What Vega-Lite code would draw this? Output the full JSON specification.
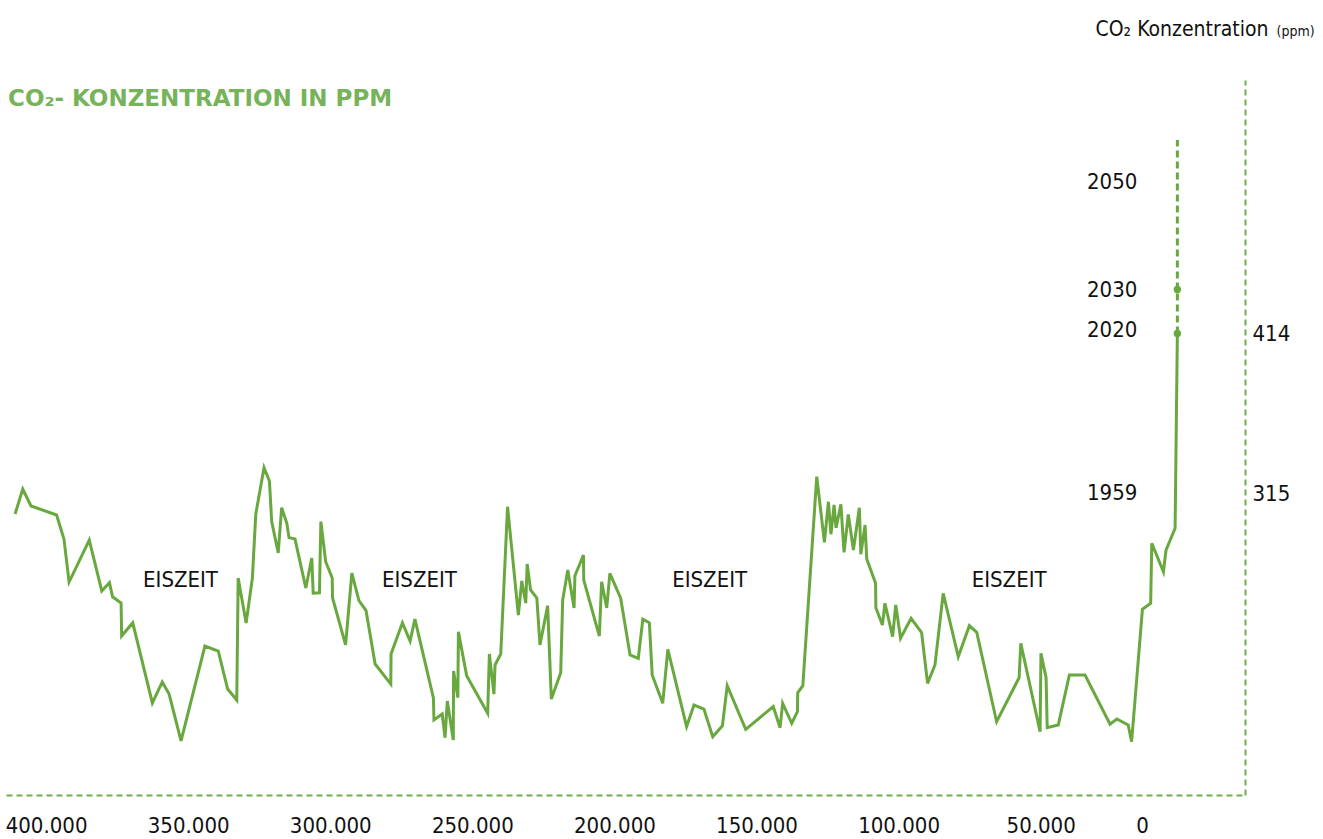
{
  "$schema": "https://vega.github.io/schema/vega-lite/v6.json",
  "width": 1239,
  "height": 715,
  "autosize": "none",
  "padding": {"left": 6, "top": 80, "right": 78, "bottom": 44},
  "background": "white",
  "title": {
    "text": "CO₂- KONZENTRATION IN PPM",
    "anchor": "start",
    "frame": "group",
    "offset": -31,
    "dx": 2,
    "dy": 62,
    "font": "DejaVu Sans",
    "fontSize": 23,
    "fontWeight": "bold",
    "color": "#76b35a"
  },
  "config": {"view": {"stroke": null}},
  "datasets": {
    "co2": [
      {"i":1,"zeit":410900,"ppm":302.3},{"i":2,"zeit":408200,"ppm":317.8},{"i":3,"zeit":405300,"ppm":307.3},{"i":4,"zeit":396300,"ppm":301.7},{"i":5,"zeit":393700,"ppm":286.8},{"i":6,"zeit":391900,"ppm":260.2},{"i":7,"zeit":384800,"ppm":286.2},{"i":8,"zeit":380400,"ppm":254.7},{"i":9,"zeit":377700,"ppm":259.8},{"i":10,"zeit":376600,"ppm":251.1},
      {"i":11,"zeit":373600,"ppm":247.2},{"i":12,"zeit":373400,"ppm":226.8},{"i":13,"zeit":369500,"ppm":235.0},{"i":14,"zeit":362600,"ppm":185.4},{"i":15,"zeit":359100,"ppm":198.4},{"i":16,"zeit":356700,"ppm":190.9},{"i":17,"zeit":352500,"ppm":161.9},{"i":18,"zeit":344100,"ppm":220.6},{"i":19,"zeit":339400,"ppm":217.5},{"i":20,"zeit":336100,"ppm":194.0},
      {"i":21,"zeit":332900,"ppm":187.2},{"i":22,"zeit":332400,"ppm":262.7},{"i":23,"zeit":329600,"ppm":234.9},{"i":24,"zeit":327400,"ppm":262.7},{"i":25,"zeit":326200,"ppm":302.3},{"i":26,"zeit":323300,"ppm":331.0},{"i":27,"zeit":321400,"ppm":322.7},{"i":28,"zeit":320600,"ppm":297.6},{"i":29,"zeit":318300,"ppm":278.2},{"i":30,"zeit":317100,"ppm":306.2},
      {"i":31,"zeit":315300,"ppm":296.7},{"i":32,"zeit":314500,"ppm":287.7},{"i":33,"zeit":312400,"ppm":286.8},{"i":34,"zeit":308600,"ppm":256.5},{"i":35,"zeit":306500,"ppm":275.1},{"i":36,"zeit":306000,"ppm":253.4},{"i":37,"zeit":303800,"ppm":253.6},{"i":38,"zeit":303300,"ppm":297.6},{"i":39,"zeit":301600,"ppm":272.8},{"i":40,"zeit":299300,"ppm":262.7},
      {"i":41,"zeit":299200,"ppm":250.5},{"i":42,"zeit":294600,"ppm":221.3},{"i":43,"zeit":292400,"ppm":265.8},{"i":44,"zeit":289900,"ppm":248.7},{"i":45,"zeit":287400,"ppm":242.5},{"i":46,"zeit":284200,"ppm":209.5},{"i":47,"zeit":278700,"ppm":197.1},{"i":48,"zeit":278600,"ppm":215.7},{"i":49,"zeit":274600,"ppm":235.0},{"i":50,"zeit":271900,"ppm":223.7},
      {"i":51,"zeit":270200,"ppm":237.3},{"i":52,"zeit":263700,"ppm":188.5},{"i":53,"zeit":263500,"ppm":174.9},{"i":54,"zeit":260600,"ppm":178.6},{"i":55,"zeit":259600,"ppm":163.9},{"i":56,"zeit":258800,"ppm":186.6},{"i":57,"zeit":256700,"ppm":162.5},{"i":58,"zeit":256600,"ppm":205.2},{"i":59,"zeit":255100,"ppm":188.7},{"i":60,"zeit":254900,"ppm":229.5},
      {"i":61,"zeit":252000,"ppm":202.3},{"i":62,"zeit":244600,"ppm":179.0},{"i":63,"zeit":244000,"ppm":215.7},{"i":64,"zeit":242400,"ppm":190.9},{"i":65,"zeit":242000,"ppm":208.9},{"i":66,"zeit":240000,"ppm":215.7},{"i":67,"zeit":237600,"ppm":306.8},{"i":68,"zeit":233800,"ppm":239.8},{"i":69,"zeit":232600,"ppm":260.9},{"i":70,"zeit":231200,"ppm":247.2},
      {"i":71,"zeit":230700,"ppm":271.4},{"i":72,"zeit":229500,"ppm":255.3},{"i":73,"zeit":227300,"ppm":250.3},{"i":74,"zeit":226200,"ppm":221.3},{"i":75,"zeit":223500,"ppm":245.6},{"i":76,"zeit":222200,"ppm":187.8},{"i":77,"zeit":218900,"ppm":204.1},{"i":78,"zeit":218200,"ppm":249.1},{"i":79,"zeit":216400,"ppm":267.7},{"i":80,"zeit":214200,"ppm":244.2},
      {"i":81,"zeit":213900,"ppm":264.1},{"i":82,"zeit":210900,"ppm":276.9},{"i":83,"zeit":210800,"ppm":261.5},{"i":84,"zeit":205300,"ppm":226.8},{"i":85,"zeit":204500,"ppm":260.4},{"i":86,"zeit":202700,"ppm":244.2},{"i":87,"zeit":201600,"ppm":265.6},{"i":88,"zeit":197800,"ppm":250.2},{"i":89,"zeit":194500,"ppm":215.1},{"i":90,"zeit":191600,"ppm":213.0},
      {"i":91,"zeit":190000,"ppm":237.3},{"i":92,"zeit":187700,"ppm":235.0},{"i":93,"zeit":186700,"ppm":202.7},{"i":94,"zeit":183000,"ppm":185.2},{"i":95,"zeit":181200,"ppm":218.6},{"i":96,"zeit":174600,"ppm":170.7},{"i":97,"zeit":172000,"ppm":184.1},{"i":98,"zeit":168500,"ppm":181.6},{"i":99,"zeit":165400,"ppm":164.5},{"i":100,"zeit":162000,"ppm":171.3},
      {"i":101,"zeit":160300,"ppm":196.1},{"i":102,"zeit":153800,"ppm":169.1},{"i":103,"zeit":144100,"ppm":183.1},{"i":104,"zeit":141700,"ppm":170.1},{"i":105,"zeit":140800,"ppm":185.2},{"i":106,"zeit":137600,"ppm":172.8},{"i":107,"zeit":135600,"ppm":180.0},{"i":108,"zeit":135500,"ppm":191.7},{"i":109,"zeit":133700,"ppm":196.1},{"i":110,"zeit":128800,"ppm":325.4},
      {"i":111,"zeit":126100,"ppm":284.8},{"i":112,"zeit":124700,"ppm":309.9},{"i":113,"zeit":123800,"ppm":289.8},{"i":114,"zeit":122700,"ppm":307.9},{"i":115,"zeit":122000,"ppm":293.8},{"i":116,"zeit":120300,"ppm":308.3},{"i":117,"zeit":119200,"ppm":278.6},{"i":118,"zeit":117700,"ppm":302.1},{"i":119,"zeit":115900,"ppm":280.0},{"i":120,"zeit":113800,"ppm":306.2},
      {"i":121,"zeit":113300,"ppm":277.4},{"i":122,"zeit":111800,"ppm":295.5},{"i":123,"zeit":111200,"ppm":274.5},{"i":124,"zeit":108100,"ppm":259.4},{"i":125,"zeit":108000,"ppm":244.3},{"i":126,"zeit":105700,"ppm":233.6},{"i":127,"zeit":104800,"ppm":247.1},{"i":128,"zeit":102100,"ppm":226.4},{"i":129,"zeit":101000,"ppm":246.0},{"i":130,"zeit":99300,"ppm":225.4},
      {"i":131,"zeit":95600,"ppm":237.8},{"i":132,"zeit":91900,"ppm":228.9},{"i":133,"zeit":89800,"ppm":197.5},{"i":134,"zeit":87200,"ppm":208.9},{"i":135,"zeit":84300,"ppm":253.2},{"i":136,"zeit":79000,"ppm":214.0},{"i":137,"zeit":75100,"ppm":233.2},{"i":138,"zeit":72500,"ppm":229.1},{"i":139,"zeit":65500,"ppm":173.8},{"i":140,"zeit":57600,"ppm":201.0},
      {"i":141,"zeit":57000,"ppm":222.3},{"i":142,"zeit":50200,"ppm":167.6},{"i":143,"zeit":49900,"ppm":216.1},{"i":144,"zeit":48100,"ppm":201.0},{"i":145,"zeit":47700,"ppm":170.1},{"i":146,"zeit":43800,"ppm":171.8},{"i":147,"zeit":39900,"ppm":202.7},{"i":148,"zeit":34400,"ppm":202.7},{"i":149,"zeit":25600,"ppm":172.2},{"i":150,"zeit":23200,"ppm":175.5},
      {"i":151,"zeit":19200,"ppm":171.8},{"i":152,"zeit":18000,"ppm":161.4},{"i":153,"zeit":14200,"ppm":243.3},{"i":154,"zeit":11300,"ppm":247.1},{"i":155,"zeit":10900,"ppm":284.2},{"i":156,"zeit":6800,"ppm":266.6},{"i":157,"zeit":5900,"ppm":280.0},{"i":158,"zeit":2700,"ppm":293.5},{"i":159,"zeit":1900,"ppm":414.0}
    ],
    "prognose": [
      {"i":1,"zeit":1900,"ppm":414.0},{"i":2,"zeit":1900,"ppm":441.2},{"i":3,"zeit":1900,"ppm":533.7}
    ],
    "punkte": [
      {"jahr":"2020","zeit":1900,"ppm":414.0},{"jahr":"2030","zeit":1900,"ppm":441.2}
    ],
    "jahre": [
      {"jahr":"2050","zeit":1900,"ppm":507.7},{"jahr":"2030","zeit":1900,"ppm":441.2},{"jahr":"2020","zeit":1900,"ppm":416.0},{"jahr":"1959","zeit":1900,"ppm":315.3}
    ],
    "eiszeit": [
      {"text":"EISZEIT","zeit":352700,"ppm":261.2},{"text":"EISZEIT","zeit":268600,"ppm":261.2},{"text":"EISZEIT","zeit":166500,"ppm":261.2},{"text":"EISZEIT","zeit":61100,"ppm":261.2}
    ]
  },
  "encoding": {
    "x": {
      "field": "zeit",
      "type": "quantitative",
      "scale": {"domain": [414100, -21900], "nice": false, "zero": false},
      "axis": {
        "values": [400000, 350000, 300000, 250000, 200000, 150000, 100000, 50000, 14340],
        "labelExpr": "datum.value < 20000 ? '0' : replace(format(datum.value, ','), ',', '.')",
        "labelFont": "DejaVu Sans Condensed, Roboto, sans-serif",
        "labelFontSize": 22,
        "labelColor": "#111111",
        "labelPadding": 20,
        "labelFlush": false,
        "labelOverlap": false,
        "ticks": false,
        "grid": false,
        "domainColor": "#6fae4a",
        "domainDash": [6, 4],
        "domainWidth": 2,
        "title": "(ppm)",
        "titleX": 1270,
        "titleY": -760,
        "titleAlign": "left",
        "titleBaseline": "alphabetic",
        "titleAngle": 0,
        "titleFont": "DejaVu Sans Condensed, Roboto, sans-serif",
        "titleFontSize": 14,
        "titleFontWeight": "normal",
        "titleColor": "#111111"
      }
    },
    "y": {
      "field": "ppm",
      "type": "quantitative",
      "scale": {"domain": [128.45, 570.85], "nice": false, "zero": false},
      "axis": {
        "orient": "right",
        "values": [315, 414],
        "labelFont": "DejaVu Sans Condensed, Roboto, sans-serif",
        "labelFontSize": 22,
        "labelColor": "#111111",
        "labelPadding": 7,
        "labelBaseline": "middle",
        "labelFlush": false,
        "ticks": false,
        "grid": false,
        "domainColor": "#6fae4a",
        "domainDash": [6, 4],
        "domainWidth": 2,
        "title": "CO₂ Konzentration",
        "titleX": 23,
        "titleY": -45,
        "titleAlign": "right",
        "titleBaseline": "alphabetic",
        "titleAngle": 0,
        "titleFont": "DejaVu Sans Condensed, Roboto, sans-serif",
        "titleFontSize": 21,
        "titleFontWeight": "normal",
        "titleColor": "#111111"
      }
    }
  },
  "layer": [
    {
      "data": {"name": "co2"},
      "mark": {"type": "line", "color": "#69a83f", "strokeWidth": 3, "strokeJoin": "miter"},
      "encoding": {"order": {"field": "i", "type": "quantitative"}}
    },
    {
      "data": {"name": "prognose"},
      "mark": {"type": "line", "color": "#69a83f", "strokeWidth": 3, "strokeDash": [7, 4]},
      "encoding": {"order": {"field": "i", "type": "quantitative"}}
    },
    {
      "data": {"name": "punkte"},
      "mark": {"type": "point", "filled": true, "color": "#69a83f", "size": 55, "opacity": 1}
    },
    {
      "data": {"name": "jahre"},
      "mark": {"type": "text", "align": "right", "baseline": "middle", "dx": -40, "font": "DejaVu Sans Condensed, Roboto, sans-serif", "fontSize": 22, "color": "#111111"},
      "encoding": {"text": {"field": "jahr", "type": "nominal"}}
    },
    {
      "data": {"name": "eiszeit"},
      "mark": {"type": "text", "align": "center", "baseline": "middle", "font": "DejaVu Sans Condensed, Roboto, sans-serif", "fontSize": 22, "letterSpacing": 0.6, "color": "#111111"},
      "encoding": {"text": {"field": "text", "type": "nominal"}}
    }
  ]
}
